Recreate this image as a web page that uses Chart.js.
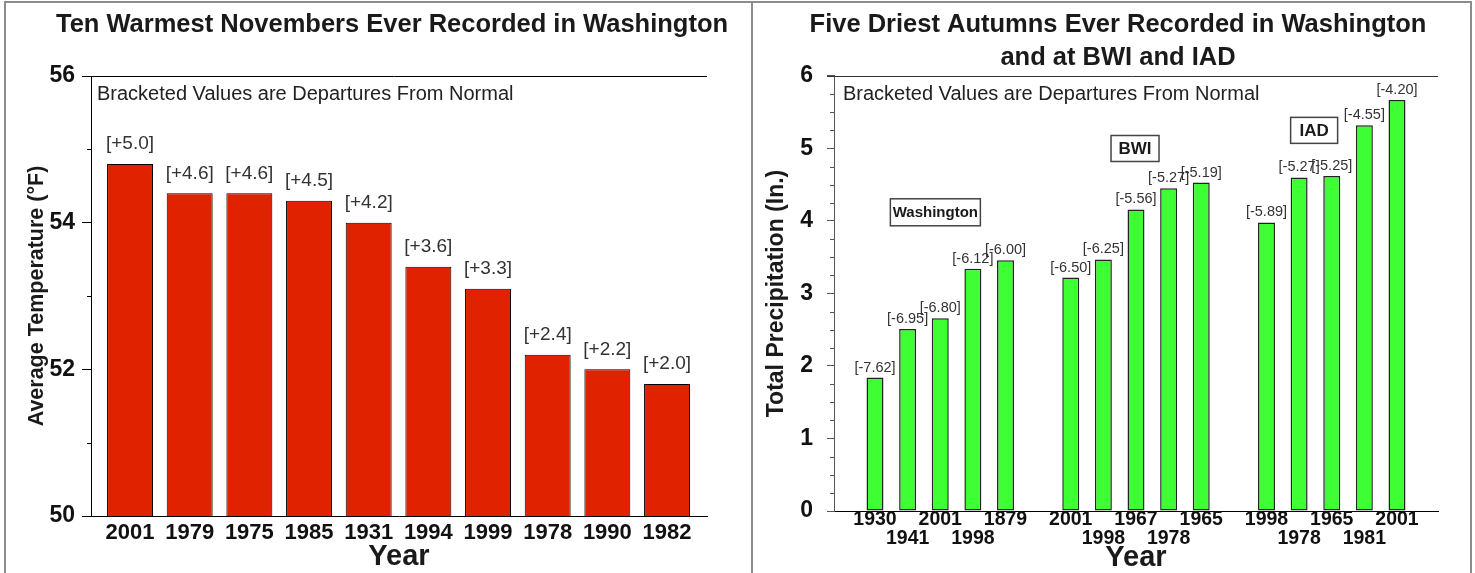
<!DOCTYPE html>
<html>
<head>
<meta charset="utf-8">
<script src="https://cdn.jsdelivr.net/npm/chart.js@4.4.0/dist/chart.umd.min.js"></script>
<style>
  html, body { margin: 0; padding: 0; background: #fff; overflow: hidden; }
  #frame { position: absolute; left: 4px; top: 1px; width: 1468px; height: 620px; border: 2px solid #8c8c8c; box-sizing: border-box; }
  #divider { position: absolute; left: 751px; top: 1px; width: 2px; height: 572px; background: #8c8c8c; }
  .box { position: absolute; top: 0; height: 573px; }
  #leftBox { left: 16px; width: 752px; }
  #rightBox { left: 761px; width: 714px; }
</style>
</head>
<body>
<div id="frame"></div>
<div id="divider"></div>
<div class="box" id="leftBox"><canvas id="warmChart"></canvas></div>
<div class="box" id="rightBox"><canvas id="dryChart"></canvas></div>
<script>
// ten warmest Novembers (Washington)
const warmYears = ['2001', '1979', '1975', '1985', '1931', '1994', '1999', '1978', '1990', '1982'];
const warmTemps = [54.8, 54.4, 54.4, 54.3, 54.0, 53.4, 53.1, 52.2, 52.0, 51.8];
const warmDepartures = ['+5.0', '+4.6', '+4.6', '+4.5', '+4.2', '+3.6', '+3.3', '+2.4', '+2.2', '+2.0'];

// five driest autumns, by station
const dryGroups = ['Washington', 'BWI', 'IAD'];
const dryYears = [
    ['1930', '1941', '2001', '1998', '1879'],
    ['2001', '1998', '1967', '1978', '1965'],
    ['1998', '1978', '1965', '1981', '2001']
];
const dryPrecip = [
    [1.84, 2.51, 2.66, 3.34, 3.46],
    [3.22, 3.47, 4.16, 4.45, 4.53],
    [3.98, 4.60, 4.62, 5.32, 5.67]
];
const dryDepartures = [
    ['-7.62', '-6.95', '-6.80', '-6.12', '-6.00'],
    ['-6.50', '-6.25', '-5.56', '-5.27', '-5.19'],
    ['-5.89', '-5.27', '-5.25', '-4.55', '-4.20']
];

const SANS = "'Liberation Sans', Arial, sans-serif";
const NOTE = 'Bracketed Values are Departures From Normal';

// bar positions on the x scale: groups separated by one empty slot
const warmX = warmYears.map((_, i) => i);
const dryX = [];
const dryLabels = [];
const dryValues = [];
const dryTexts = [];
dryYears.forEach((years, g) => {
    years.forEach((yr, i) => {
        dryX.push(g * 6 + i);
        dryLabels.push(i % 2 === 0 ? [yr] : ['', yr]);
        dryValues.push(dryPrecip[g][i]);
        dryTexts.push(dryDepartures[g][i]);
    });
});

const extras = {
    id: 'extras',
    afterDraw(chart, args, opts) {
        const { ctx, chartArea: a, scales: { x, y } } = chart;
        ctx.save();
        ctx.lineWidth = 1;
        ctx.strokeStyle = opts.frameColor;
        ctx.beginPath();
        ctx.moveTo(a.left - opts.tickLen, Math.round(a.top) + 0.5);
        ctx.lineTo(a.right, Math.round(a.top) + 0.5);
        ctx.stroke();

        ctx.strokeStyle = opts.axisColor;
        opts.minorTicks.forEach(v => {
            const py = Math.round(y.getPixelForValue(v)) + 0.5;
            ctx.beginPath();
            ctx.moveTo(a.left - 4, py);
            ctx.lineTo(a.left, py);
            ctx.stroke();
        });

        ctx.fillStyle = '#222';
        ctx.font = '20px ' + SANS;
        ctx.textAlign = 'left';
        ctx.textBaseline = 'middle';
        ctx.fillText(NOTE, a.left + opts.noteDx, a.top + 18);

        ctx.fillStyle = '#333';
        ctx.textAlign = 'center';
        ctx.font = opts.labelFont;
        chart.getDatasetMeta(0).data.forEach((bar, i) => {
            ctx.fillText('[' + opts.labels[i] + ']', bar.x, bar.y - opts.labelGap);
        });

        (opts.boxes || []).forEach(b => {
            const cx = x.getPixelForValue(b.x);
            const cy = y.getPixelForValue(b.y);
            ctx.fillStyle = '#fff';
            ctx.fillRect(cx - b.w / 2, cy - b.h / 2, b.w, b.h);
            ctx.strokeStyle = '#444';
            ctx.lineWidth = 1.5;
            ctx.strokeRect(cx - b.w / 2, cy - b.h / 2, b.w, b.h);
            ctx.fillStyle = '#1a1a1a';
            ctx.font = 'bold ' + b.size + 'px ' + SANS;
            ctx.fillText(b.text, cx, cy + 1);
        });
        ctx.restore();
    }
};

function padScale(width) {
    return {
        position: 'right',
        grid: { display: false },
        border: { display: false },
        ticks: { display: false },
        afterFit: s => { s.width = width; }
    };
}

new Chart(document.getElementById('warmChart'), {
    type: 'bar',
    data: {
        datasets: [{
            data: warmTemps.map((v, i) => ({ x: warmX[i], y: v })),
            backgroundColor: '#E12200',
            borderColor: '#000',
            borderWidth: 1,
            borderSkipped: false,
            barPercentage: 0.77,
            categoryPercentage: 1
        }]
    },
    options: {
        responsive: true,
        maintainAspectRatio: false,
        animation: false,
        devicePixelRatio: 1,
        layout: { padding: 0 },
        plugins: {
            legend: { display: false },
            tooltip: { enabled: false },
            title: {
                display: true,
                text: 'Ten Warmest Novembers Ever Recorded in Washington',
                color: '#1a1a1a',
                font: { family: SANS, size: 25.5, weight: 'bold', lineHeight: 1.2 },
                padding: { top: 9.7, bottom: 35.7 }
            },
            extras: {
                frameColor: '#000', axisColor: '#000', tickLen: 9,
                minorTicks: [51, 53, 55],
                noteDx: 6,
                labels: warmDepartures,
                labelFont: '19px ' + SANS,
                labelGap: 20
            }
        },
        scales: {
            x: {
                type: 'linear',
                min: -0.654,
                max: 9.67,
                offset: false,
                grid: { display: false, drawTicks: false },
                border: { display: true, color: '#000', width: 1 },
                afterBuildTicks: s => { s.ticks = warmX.map(v => ({ value: v })); },
                ticks: {
                    autoSkip: false, maxRotation: 0, padding: 4, color: '#111',
                    font: { family: SANS, size: 22, weight: 'bold', lineHeight: 1.2 },
                    callback: (v, i) => warmYears[i]
                },
                title: {
                    display: true, text: 'Year', color: '#1a1a1a',
                    font: { family: SANS, size: 29, weight: 'bold', lineHeight: 1 },
                    padding: { top: 0, bottom: 2 }
                },
                afterFit: s => { s.height = 57; }
            },
            y: {
                min: 50,
                max: 56,
                grid: { drawOnChartArea: false, drawTicks: true, tickLength: 9, color: '#000' },
                border: { display: true, color: '#000', width: 1 },
                ticks: {
                    stepSize: 2, padding: 7, color: '#111',
                    font: { family: SANS, size: 23, weight: 'bold' }
                },
                title: {
                    display: true, text: 'Average Temperature (°F)', color: '#1a1a1a',
                    font: { family: SANS, size: 21.5, weight: 'bold', lineHeight: 1.2 },
                    padding: { top: 8, bottom: 0 }
                },
                afterFit: s => { s.width = 75; }
            },
            pad: padScale(61)
        }
    },
    plugins: [extras]
});

const quarterTicks = [];
for (let q = 1; q < 24; q++) {
    if (q % 4 !== 0) quarterTicks.push(q / 4);
}

new Chart(document.getElementById('dryChart'), {
    type: 'bar',
    data: {
        datasets: [{
            data: dryValues.map((v, i) => ({ x: dryX[i], y: v })),
            backgroundColor: '#3DFF33',
            borderColor: '#222',
            borderWidth: 1.5,
            borderSkipped: false,
            barPercentage: 0.52,
            categoryPercentage: 1
        }]
    },
    options: {
        responsive: true,
        maintainAspectRatio: false,
        animation: false,
        devicePixelRatio: 1,
        layout: { padding: 0 },
        plugins: {
            legend: { display: false },
            tooltip: { enabled: false },
            title: {
                display: true,
                text: ['Five Driest Autumns Ever Recorded in Washington', 'and at BWI and IAD'],
                color: '#1a1a1a',
                font: { family: SANS, size: 25.5, weight: 'bold', lineHeight: 1.294 },
                padding: { top: 8.5, bottom: 1.5 }
            },
            extras: {
                frameColor: '#333', axisColor: '#555', tickLen: 7,
                minorTicks: quarterTicks,
                noteDx: 9,
                labels: dryTexts,
                labelFont: '14.5px ' + SANS,
                labelGap: 10,
                boxes: [
                    { text: dryGroups[0], x: 1.85, y: 4.12, w: 90, h: 27, size: 15 },
                    { text: dryGroups[1], x: 7.97, y: 5.0, w: 48, h: 26, size: 17 },
                    { text: dryGroups[2], x: 13.46, y: 5.25, w: 47, h: 26, size: 17 }
                ]
            }
        },
        scales: {
            x: {
                type: 'linear',
                min: -1.257,
                max: 17.257,
                offset: false,
                grid: { display: false, drawTicks: false },
                border: { display: true, color: '#000', width: 1 },
                afterBuildTicks: s => { s.ticks = dryX.map(v => ({ value: v })); },
                ticks: {
                    autoSkip: false, maxRotation: 0, padding: 0, color: '#111',
                    font: { family: SANS, size: 19.5, weight: 'bold', lineHeight: 0.93 },
                    callback: (v, i) => dryLabels[i]
                },
                title: {
                    display: true, text: 'Year', color: '#1a1a1a',
                    font: { family: SANS, size: 29, weight: 'bold', lineHeight: 1 },
                    padding: { top: 0, bottom: 1 }
                },
                afterFit: s => { s.height = 62; }
            },
            y: {
                min: 0,
                max: 6,
                grid: { drawOnChartArea: false, drawTicks: true, tickLength: 7, color: '#555' },
                border: { display: true, color: '#555', width: 1 },
                ticks: {
                    stepSize: 1, padding: 14, color: '#111',
                    font: { family: SANS, size: 23, weight: 'bold' }
                },
                title: {
                    display: true, text: 'Total Precipitation (In.)', color: '#1a1a1a',
                    font: { family: SANS, size: 23, weight: 'bold', lineHeight: 1.2 },
                    padding: { top: 2, bottom: 0 }
                },
                afterFit: s => { s.width = 73; }
            },
            pad: padScale(37)
        }
    },
    plugins: [extras]
});
</script>
</body>
</html>
